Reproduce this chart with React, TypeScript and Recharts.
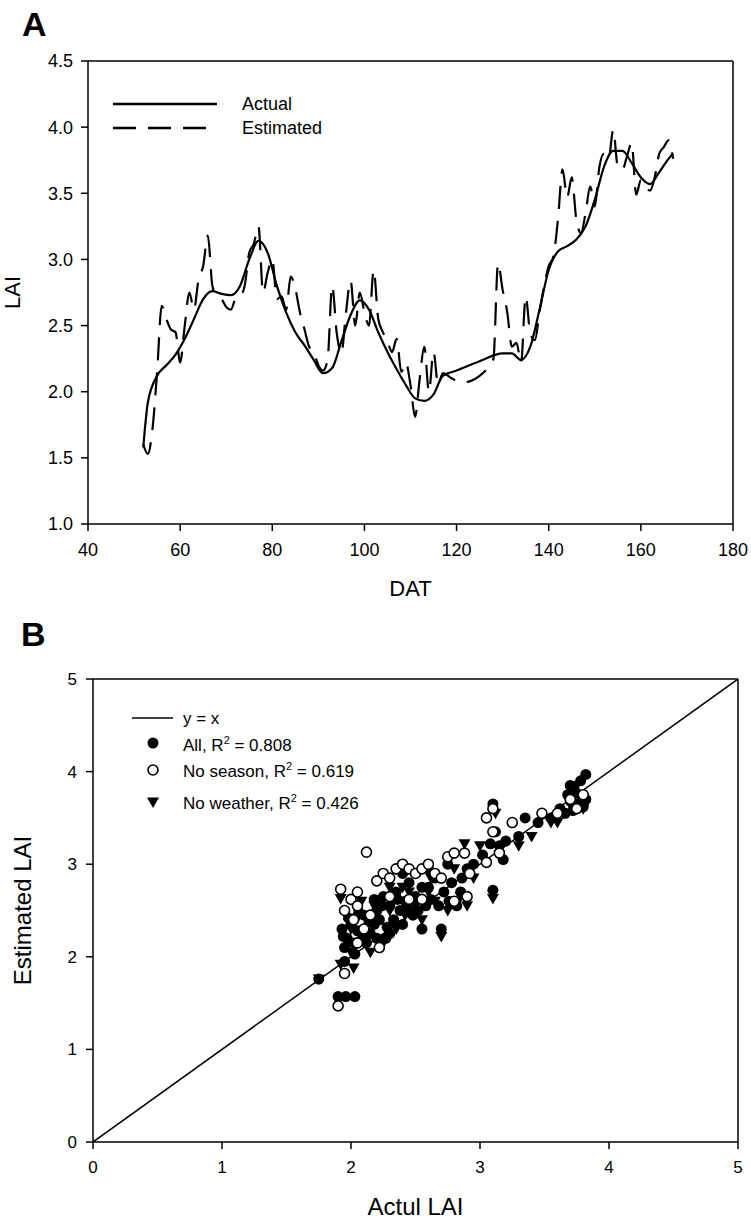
import React from "react"
import {
  LineChart,
  Line,
  ScatterChart,
  Scatter,
  XAxis,
  YAxis,
  ZAxis,
  ReferenceLine,
  Label,
  Legend,
} from "recharts"

// panel A: LAI over days after transplanting
const actualDat = [52, 53, 55, 57, 59, 61, 63, 65, 67, 69, 71, 73, 75, 77, 79, 81, 83, 85, 87, 89, 91, 93, 95, 97, 99, 101, 103, 105, 107, 109, 111, 113, 115, 117, 120, 125, 130, 132, 134, 136, 138, 140, 142, 144, 146, 148, 150, 152, 154, 156, 158, 160, 162, 164, 166, 167]
const actualLai = [1.58, 1.92, 2.12, 2.2, 2.28, 2.4, 2.55, 2.7, 2.76, 2.74, 2.73, 2.8, 3.0, 3.14, 3.05, 2.8, 2.6, 2.45, 2.35, 2.24, 2.14, 2.18, 2.38, 2.58, 2.69, 2.62, 2.45, 2.3, 2.17, 2.05, 1.95, 1.93, 1.98, 2.12, 2.16, 2.23, 2.29, 2.29, 2.24, 2.34, 2.62, 2.92, 3.06, 3.1, 3.15, 3.25, 3.45, 3.7, 3.82, 3.82, 3.73, 3.62, 3.57, 3.66, 3.76, 3.8]

const estDat = [52, 53, 54, 55, 56, 57, 58, 59, 60, 61, 62, 63, 64, 65, 66, 67, 68, 69, 70, 71, 72, 73, 74, 75, 76, 77, 78, 79, 80, 81, 82, 83, 84, 85, 86, 87, 88, 89, 90, 91, 92, 93, 94, 95, 96, 97, 98, 99, 100, 101, 102, 103, 104, 105, 106, 107, 108, 109, 110, 111, 112, 113, 114, 115, 116, 117, 119, 121, 123, 125, 127, 128, 129, 130, 131, 132, 133, 134, 135, 136, 137, 138, 139, 140, 141, 142, 143, 144, 145, 146, 147, 148, 149, 150, 151, 152, 153, 154, 155, 156, 157, 158, 159, 160, 161, 162, 163, 164, 165, 166, 167]
const estLai = [1.6, 1.53, 1.72, 2.15, 2.65, 2.55, 2.47, 2.45, 2.22, 2.5, 2.75, 2.62, 2.85, 2.95, 3.18, 2.8, 2.72, 2.7, 2.64, 2.62, 2.7, 2.72, 2.8, 3.05, 3.12, 3.25, 2.75, 2.9, 3.0, 2.7, 2.72, 2.62, 2.87, 2.78, 2.6, 2.47, 2.34, 2.3, 2.2, 2.16, 2.24, 2.8, 2.44, 2.29, 2.6, 2.84, 2.5, 2.75, 2.6, 2.5, 2.92, 2.55, 2.45, 2.38, 2.3, 2.4, 2.15, 2.22, 2.05, 1.81, 2.1, 2.34, 2.0, 2.3, 2.05, 2.14, 2.1, 2.07, 2.08, 2.12, 2.19, 2.25, 2.97, 2.77, 2.6, 2.34, 2.37, 2.22, 2.72, 2.44, 2.39, 2.6, 2.8, 2.95, 3.02, 3.3, 3.68, 3.47, 3.62, 3.3, 3.2, 3.35, 3.55, 3.4, 3.7, 3.8, 3.76, 3.98, 3.7, 3.68, 3.78, 3.88, 3.49, 3.6, 3.55, 3.52, 3.62, 3.8, 3.85, 3.9, 3.76]

// panel B: estimated vs actual LAI
const allX = [1.75, 1.9, 1.96, 2.03, 1.95, 2.03, 1.93, 1.97, 2.0, 2.05, 2.08, 2.12, 2.15, 2.18, 2.2, 2.22, 2.25, 2.27, 2.3, 2.33, 2.35, 2.38, 2.4, 2.42, 2.45, 2.48, 2.5, 2.55, 2.55, 2.58, 2.6, 2.62, 2.65, 2.7, 2.72, 2.75, 2.78, 2.82, 2.85, 2.9, 2.95, 3.02, 3.1, 3.1, 3.12, 3.15, 3.2, 3.3, 3.45, 3.55, 3.62, 3.68, 3.7, 3.75, 3.78, 3.82, 3.82, 3.72, 3.35, 1.95, 2.1, 2.4, 2.3, 2.18, 1.94, 1.98, 2.02, 2.06, 2.1, 2.14, 2.2, 2.24, 2.28, 2.36, 2.44, 2.52, 2.6, 2.68, 2.76, 2.86, 3.08, 3.18, 3.66, 3.74, 3.8, 3.7]
const allY = [1.76, 1.57, 1.57, 1.57, 1.95, 2.03, 2.3, 2.2, 2.35, 2.28, 2.18, 2.15, 2.25, 2.35, 2.5, 2.4, 2.65, 2.2, 2.55, 2.4, 2.7, 2.5, 2.9, 2.6, 2.8, 2.45, 2.65, 2.3, 2.75, 2.55, 2.95, 2.62, 2.85, 2.3, 2.7, 3.0, 2.8, 2.55, 2.7, 2.95, 3.0, 3.1, 2.72, 3.65, 3.35, 3.2, 3.25, 3.3, 3.45, 3.5, 3.6, 3.75, 3.85, 3.65, 3.9, 3.97, 3.7, 3.58, 3.5, 2.1, 2.45, 2.35, 2.25, 2.62, 2.22, 2.42, 2.15, 2.48, 2.3, 2.38, 2.2, 2.55, 2.32, 2.62, 2.52, 2.5, 2.75, 2.55, 2.6, 2.85, 3.22, 3.05, 3.55, 3.78, 3.62, 3.68]

const noSeasonX = [1.9, 1.95, 1.92, 1.95, 2.0, 2.05, 2.02, 2.12, 2.05, 2.1, 2.15, 2.2, 2.25, 2.3, 2.35, 2.4, 2.45, 2.5, 2.55, 2.6, 2.65, 2.7, 2.75, 2.8, 2.88, 2.8, 2.9, 2.55, 2.45, 2.3, 2.22, 2.05, 3.05, 3.1, 3.1, 3.15, 3.25, 3.48, 3.6, 3.7, 3.75, 3.8, 3.05, 2.92]
const noSeasonY = [1.47, 1.82, 2.73, 2.5, 2.62, 2.55, 2.4, 3.13, 2.7, 2.3, 2.45, 2.82, 2.9, 2.85, 2.95, 3.0, 2.95, 2.9, 2.95, 3.0, 2.9, 2.85, 3.08, 3.12, 3.12, 2.6, 2.65, 2.62, 2.62, 2.65, 2.1, 2.15, 3.5, 3.6, 3.35, 3.12, 3.45, 3.55, 3.55, 3.7, 3.6, 3.75, 3.02, 2.9]

const noWeatherX = [1.75, 1.92, 2.02, 1.92, 2.0, 2.05, 2.1, 2.2, 2.25, 2.3, 2.35, 2.4, 2.45, 2.5, 2.55, 2.6, 2.65, 2.7, 2.75, 2.8, 2.85, 2.9, 2.95, 3.0, 3.1, 3.12, 3.15, 3.3, 3.4, 3.55, 3.6, 3.65, 3.7, 3.75, 3.8, 3.78, 2.88, 2.3, 2.15, 2.0, 2.08, 2.18, 2.42, 2.62]
const noWeatherY = [1.76, 1.92, 1.88, 2.63, 2.3, 2.42, 2.2, 2.4, 2.15, 2.5, 2.3, 2.75, 2.7, 2.55, 2.4, 2.7, 2.6, 2.22, 2.5, 2.95, 2.65, 2.55, 2.85, 3.2, 2.63, 3.55, 3.1, 3.2, 3.3, 3.45, 3.45, 3.55, 3.65, 3.85, 3.6, 3.7, 3.22, 2.75, 2.05, 2.05, 2.6, 2.55, 2.45, 2.85]

const diagX = [0, 5]
const diagY = [0, 5]

const laiTicks = [1.0, 1.5, 2.0, 2.5, 3.0, 3.5, 4.0, 4.5]
const datTicks = [40, 60, 80, 100, 120, 140, 160, 180]
const unitTicks = [0, 1, 2, 3, 4, 5]

const actual = actualDat.map((d, i) => ({ dat: d, lai: actualLai[i] }))
const estimated = estDat.map((d, i) => ({ dat: d, lai: estLai[i] }))
const toPts = (xs: number[], ys: number[]) => xs.map((x, i) => ({ x, y: ys[i] }))
const allPts = toPts(allX, allY)
const noSeasonPts = toPts(noSeasonX, noSeasonY)
const noWeatherPts = toPts(noWeatherX, noWeatherY)
const diagPts = toPts(diagX, diagY)

const FONT = "'Liberation Sans', Arial, sans-serif"
const AXIS = { stroke: "#000", strokeWidth: 1.5 }
const tickStyle = { fontSize: 18, fill: "#000", fontFamily: FONT }

const FilledDot = (p: any) => <circle cx={p.cx} cy={p.cy} r={5.5} fill="#000" />
const OpenDot = (p: any) => (
  <circle cx={p.cx} cy={p.cy} r={5} fill="#fff" stroke="#000" strokeWidth={1.6} />
)
const DownTri = (p: any) => (
  <path d={`M${p.cx - 6},${p.cy - 4.5}L${p.cx + 6},${p.cy - 4.5}L${p.cx},${p.cy + 6}Z`} fill="#000" />
)
const NoDot = () => <g />

function TopLegend() {
  return (
    <svg width={260} height={52} style={{ display: "block" }}>
      <line x1={13} x2={117} y1={14} y2={14} stroke="#000" strokeWidth={2.5} />
      <line x1={13} x2={107} y1={38} y2={38} stroke="#000" strokeWidth={2.5} strokeDasharray="23 12" />
      <text x={142} y={14} dy="0.36em" fontSize={18} fontFamily={FONT}>Actual</text>
      <text x={142} y={38} dy="0.36em" fontSize={18} fontFamily={FONT}>Estimated</text>
    </svg>
  )
}

function BottomLegend() {
  // text row, with an optional superscript 2 after `a`
  const row = (y: number, a: string, b?: string) => (
    <text x={63} y={y + 6} fontSize={17} fontFamily={FONT}>
      {a}
      {b && (
        <>
          <tspan dy={-7} fontSize={11}>2</tspan>
          <tspan dy={7}>{b}</tspan>
        </>
      )}
    </text>
  )
  return (
    <svg width={300} height={120} style={{ display: "block" }}>
      <line x1={12} x2={53} y1={18} y2={18} stroke="#000" strokeWidth={1.5} />
      {row(18, "y = x")}
      <circle cx={33} cy={43} r={5.5} fill="#000" />
      {row(45, "All, R", " = 0.808")}
      <circle cx={33} cy={70} r={5} fill="#fff" stroke="#000" strokeWidth={1.6} />
      {row(71, "No season, R", " = 0.619")}
      <path d="M27,97.5L39,97.5L33,108Z" fill="#000" />
      {row(103, "No weather, R", " = 0.426")}
    </svg>
  )
}

const panelLetter: React.CSSProperties = {
  position: "absolute",
  fontFamily: FONT,
  fontWeight: "bold",
  fontSize: 34,
  lineHeight: 1,
}

export default function App() {
  return (
    <div style={{ position: "absolute", left: 0, top: 0, width: 751, height: 1220, background: "#fff", overflow: "hidden" }}>
      <div style={{ ...panelLetter, left: 22, top: 7 }}>A</div>
      <div style={{ ...panelLetter, left: 21, top: 617 }}>B</div>

      <div style={{ position: "absolute", left: 0, top: 0 }}>
        <LineChart width={751} height={600} margin={{ top: 61, right: 18, bottom: 0, left: 0 }}>
          <XAxis
            type="number"
            dataKey="dat"
            domain={[40, 180]}
            ticks={datTicks}
            allowDataOverflow
            height={76}
            axisLine={AXIS}
            tickLine={AXIS}
            tickSize={7}
            tickMargin={12}
            tick={tickStyle}
          >
            <Label value="DAT" position="insideBottom" offset={4} fontSize={22} fill="#000" fontFamily={FONT} />
          </XAxis>
          <YAxis
            type="number"
            dataKey="lai"
            domain={[1, 4.5]}
            ticks={laiTicks}
            allowDataOverflow
            width={88}
            axisLine={AXIS}
            tickLine={AXIS}
            tickSize={7}
            tickMargin={8}
            tick={tickStyle}
            tickFormatter={(v: number) => v.toFixed(1)}
          >
            <Label value="LAI" angle={-90} position="insideLeft" offset={12} fontSize={22} fill="#000" fontFamily={FONT} style={{ textAnchor: "middle" }} />
          </YAxis>
          <ReferenceLine y={4.5} stroke="#000" strokeWidth={1.5} />
          <ReferenceLine x={180} stroke="#000" strokeWidth={1.5} />
          <Line
            data={actual}
            dataKey="lai"
            name="Actual"
            type="monotone"
            stroke="#000"
            strokeWidth={2.2}
            dot={false}
            isAnimationActive={false}
          />
          <Line
            data={estimated}
            dataKey="lai"
            name="Estimated"
            type="monotone"
            stroke="#000"
            strokeWidth={2.2}
            strokeDasharray="23 12"
            dot={false}
            isAnimationActive={false}
          />
          <Legend
            layout="vertical"
            align="center"
            verticalAlign="middle"
            content={() => <TopLegend />}
            wrapperStyle={{ left: 100, top: 90, width: 260, height: 52 }}
          />
        </LineChart>
      </div>

      <div style={{ position: "absolute", left: 0, top: 600 }}>
        <ScatterChart width={751} height={620} margin={{ top: 79, right: 13, bottom: 0, left: 0 }}>
          <XAxis
            type="number"
            dataKey="x"
            domain={[0, 5]}
            ticks={unitTicks}
            allowDataOverflow
            height={78}
            axisLine={AXIS}
            tickLine={AXIS}
            tickSize={7}
            tickMargin={12}
            tick={{ ...tickStyle, fontSize: 17 }}
          >
            <Label value="Actul LAI" position="insideBottom" offset={5} fontSize={24} fill="#000" fontFamily={FONT} />
          </XAxis>
          <YAxis
            type="number"
            dataKey="y"
            domain={[0, 5]}
            ticks={unitTicks}
            allowDataOverflow
            width={93}
            axisLine={AXIS}
            tickLine={AXIS}
            tickSize={7}
            tickMargin={9}
            tick={{ ...tickStyle, fontSize: 17 }}
          >
            <Label value="Estimated LAI" angle={-90} position="insideLeft" offset={22} fontSize={24} fill="#000" fontFamily={FONT} style={{ textAnchor: "middle" }} />
          </YAxis>
          <ZAxis range={[100, 100]} />
          <ReferenceLine y={5} stroke="#000" strokeWidth={1.5} />
          <ReferenceLine x={5} stroke="#000" strokeWidth={1.5} />
          <Scatter
            name="y = x"
            data={diagPts}
            line={{ stroke: "#000", strokeWidth: 1.5 }}
            shape={NoDot}
            isAnimationActive={false}
          />
          <Scatter name="No weather" data={noWeatherPts} shape={DownTri} isAnimationActive={false} />
          <Scatter name="All" data={allPts} shape={FilledDot} isAnimationActive={false} />
          <Scatter name="No season" data={noSeasonPts} shape={OpenDot} isAnimationActive={false} />
          <Legend
            layout="vertical"
            align="center"
            verticalAlign="middle"
            content={() => <BottomLegend />}
            wrapperStyle={{ left: 120, top: 100, width: 300, height: 120 }}
          />
        </ScatterChart>
      </div>
    </div>
  )
}
